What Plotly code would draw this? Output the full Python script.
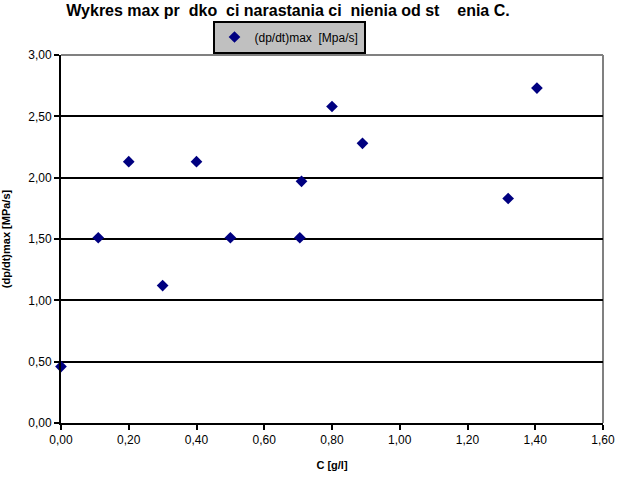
import plotly.graph_objects as go

title_text = "Wykres max pr\u00a0\u00a0dko\u00a0\u00a0ci narastania ci\u00a0\u00a0nienia od st\u00a0\u00a0\u00a0\u00a0enia C."
series_name = "(dp/dt)max\u00a0\u00a0[Mpa/s]"
c_values = [0.00, 0.11, 0.20, 0.30, 0.40, 0.50, 0.705, 0.71, 0.80, 0.89, 1.32, 1.405]
dpdt_values = [0.46, 1.51, 2.13, 1.12, 2.13, 1.51, 1.51, 1.97, 2.58, 2.28, 1.83, 2.73]
x_ticks = [0.0, 0.2, 0.4, 0.6, 0.8, 1.0, 1.2, 1.4, 1.6]
y_ticks = [0.0, 0.5, 1.0, 1.5, 2.0, 2.5, 3.0]

fig = go.Figure()
fig.add_trace(go.Scatter(
    x=c_values, y=dpdt_values, mode="markers", name=series_name,
    marker=dict(symbol="diamond", size=9, color="#000080"),
    cliponaxis=False,
))

font_family = "Liberation Sans, Arial, sans-serif"

fig.update_layout(
    width=618, height=477,
    margin=dict(l=61, r=15, t=55, b=54, autoexpand=False),
    paper_bgcolor="white", plot_bgcolor="white",
    separators=",.",
    font=dict(family=font_family, size=12, color="black"),
    title=dict(text="<b>" + title_text + "</b>", x=0.466, xanchor="center",
               y=1 - 10 / 477, yanchor="middle", font=dict(size=16, color="black")),
    showlegend=True,
    legend=dict(x=(289 - 61) / 542, xanchor="center", y=1 + (55 - 37) / 368, yanchor="middle",
                bgcolor="#c0c0c0", bordercolor="black", borderwidth=2,
                font=dict(size=12), itemwidth=30,
                tracegroupgap=0),
    xaxis=dict(range=[0, 1.6], tickvals=x_ticks, tickformat=".2f",
               showgrid=False, zeroline=False, showline=True,
               linecolor="black", linewidth=2, ticks="outside",
               ticklen=5, tickwidth=2, tickcolor="black",
               title=dict(text="<b>C [g/l]</b>", font=dict(size=11)),
               tickfont=dict(size=12)),
    yaxis=dict(range=[0, 3.0], tickvals=y_ticks, tickformat=".2f",
               showgrid=True, gridcolor="black", gridwidth=2,
               zeroline=False, showline=True, linecolor="black", linewidth=2,
               ticks="outside", ticklen=5, tickwidth=2, tickcolor="black",
               title=dict(text="<b>(dp/dt)max [MPa/s]</b>", font=dict(size=11)),
               tickfont=dict(size=12)),
)

fig.add_shape(type="line", xref="paper", yref="paper", x0=0, x1=1, y0=1, y1=1,
              line=dict(color="#808080", width=2), layer="below")
fig.add_shape(type="line", xref="paper", yref="paper", x0=1, x1=1, y0=0, y1=1,
              line=dict(color="#808080", width=2), layer="below")

fig.write_html("out.html")
